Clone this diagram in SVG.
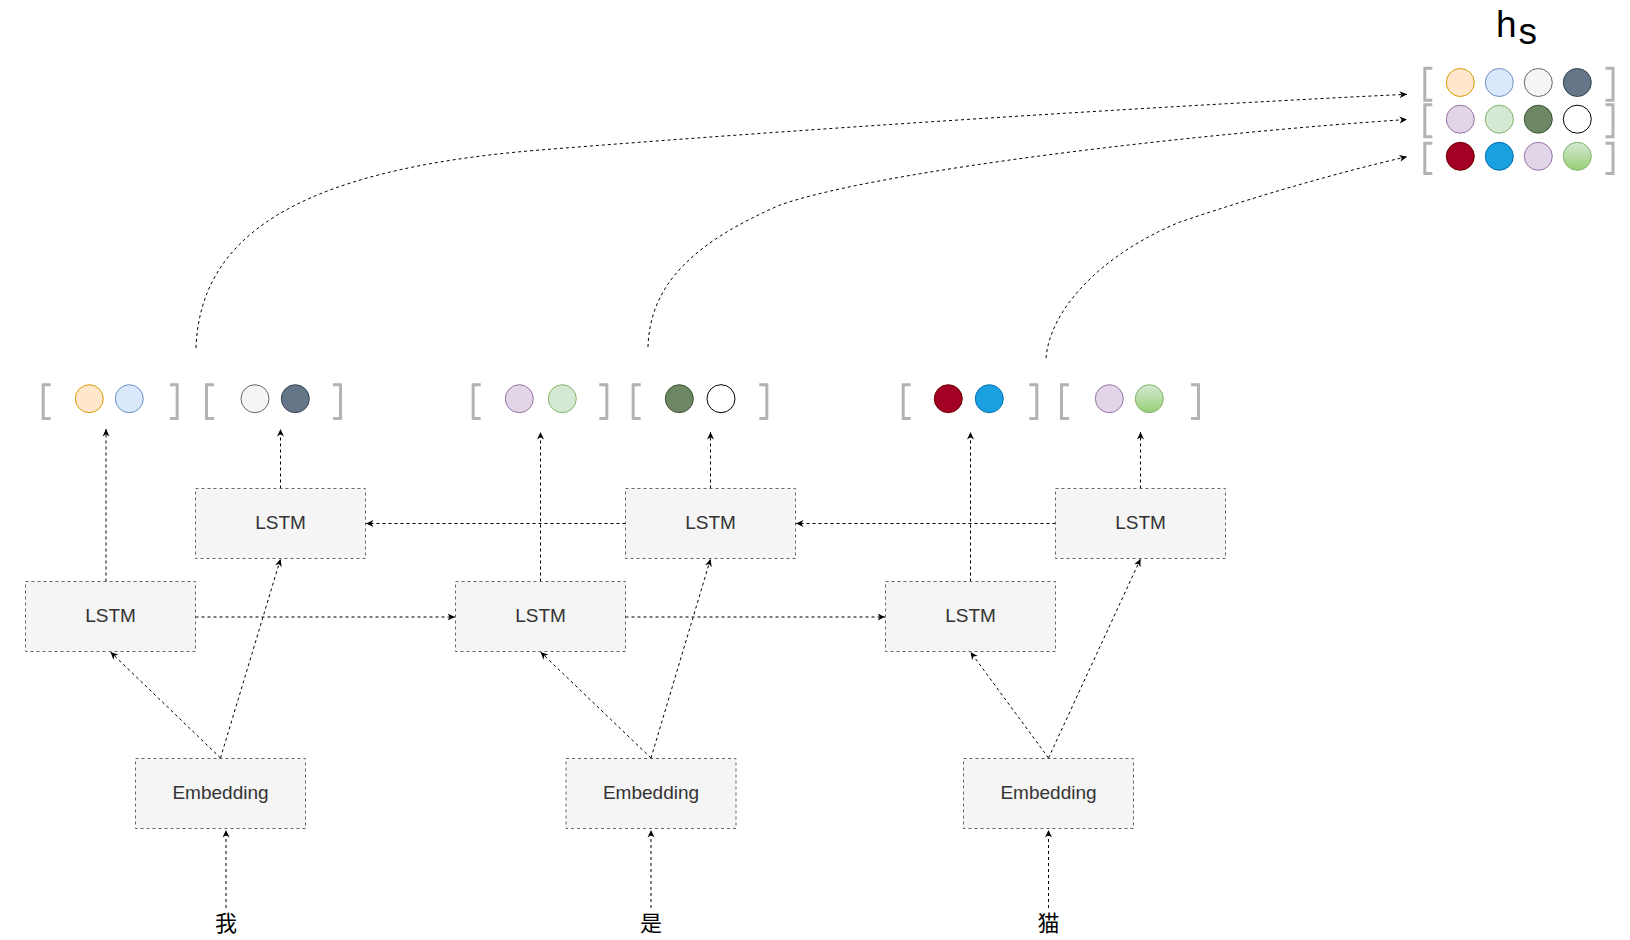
<svg xmlns="http://www.w3.org/2000/svg" width="1630" height="940" viewBox="0 0 1630 940">
<defs>
<style>
.box{fill:#f5f5f5;stroke:#666666;stroke-width:1;stroke-dasharray:3 3}
.lbl{font-family:"Liberation Sans",Arial,sans-serif;font-size:19px;fill:#333333;text-anchor:middle}
.br{fill:none;stroke:#b3b3b3;stroke-width:3}
.conn{fill:none;stroke:#000000;stroke-width:1;stroke-dasharray:3 3;marker-end:url(#arr)}
.zh{font-family:"Noto Sans CJK SC","Noto Sans",sans-serif;font-size:22px;fill:#000000;text-anchor:middle}
.orange{fill:#ffe6cc;stroke:#d79b00}
.blue{fill:#dae8fc;stroke:#6c8ebf}
.gray{fill:#f5f5f5;stroke:#666666}
.slate{fill:#647687;stroke:#314354}
.purple{fill:#e1d5e7;stroke:#9673a6}
.lgreen{fill:#d5e8d4;stroke:#82b366}
.dgreen{fill:#6d8764;stroke:#3a5431}
.white{fill:#ffffff;stroke:#000000}
.red{fill:#a20025;stroke:#6f0000}
.cyan{fill:#1ba1e2;stroke:#006eaf}
.ggrad{fill:url(#gg);stroke:#82b366}
</style>
<linearGradient id="gg" x1="0" y1="0" x2="0" y2="1">
<stop offset="0" stop-color="#d5e8d4"/>
<stop offset="1" stop-color="#97d077"/>
</linearGradient>
<marker id="arr" viewBox="0 0 8 8" markerUnits="userSpaceOnUse" markerWidth="8" markerHeight="8" refX="7.5" refY="4" orient="auto">
<path d="M0,0.5 L7.5,4 L0,7.5 L2.2,4 Z" fill="#000000"/>
</marker>
</defs>
<rect width="1630" height="940" fill="#ffffff"/>

<g id="connectors">
<!-- inputs to embeddings -->
<path class="conn" d="M226,908 V830"/>
<path class="conn" d="M651,908 V830"/>
<path class="conn" d="M1048.5,908 V830"/>
<!-- embedding to LSTMs -->
<path class="conn" d="M220.5,758 L110.5,652"/>
<path class="conn" d="M220.5,758 L280.5,559"/>
<path class="conn" d="M651,758 L540.5,652"/>
<path class="conn" d="M651,758 L710.5,559"/>
<path class="conn" d="M1048.5,758 L970.5,652"/>
<path class="conn" d="M1048.5,758 L1140.5,559"/>
<!-- forward LSTM chain -->
<path class="conn" d="M195.5,617 H455"/>
<path class="conn" d="M625.5,617 H885"/>
<!-- backward LSTM chain -->
<path class="conn" d="M1055.5,523.5 H796"/>
<path class="conn" d="M625.5,523.5 H366"/>
<!-- LSTM outputs -->
<path class="conn" d="M106,581.5 V429"/>
<path class="conn" d="M280.5,488.5 V429"/>
<path class="conn" d="M540.5,581.5 V432"/>
<path class="conn" d="M710.5,488.5 V432"/>
<path class="conn" d="M970.5,581.5 V432"/>
<path class="conn" d="M1140.5,488.5 V432"/>
<!-- curves to hs -->
<path class="conn" d="M196,348 C200,240 290,170 540,150 C840,126 1200,104 1407,94.3"/>
<path class="conn" d="M648,347 C650,280 700,240 780,205 C880,170 1200,133 1407,119.5"/>
<path class="conn" d="M1046,358 C1050,310 1100,255 1180,222 C1260,195 1340,172 1407,156.7"/>
</g>

<g id="emb1"><rect class="box" x="135.5" y="758.5" width="170" height="70"/><text class="lbl" x="220.5" y="798.5">Embedding</text></g>
<g id="emb2"><rect class="box" x="566" y="758.5" width="170" height="70"/><text class="lbl" x="651" y="798.5">Embedding</text></g>
<g id="emb3"><rect class="box" x="963.5" y="758.5" width="170" height="70"/><text class="lbl" x="1048.5" y="798.5">Embedding</text></g>

<g id="lstm_f1"><rect class="box" x="25.5" y="581.5" width="170" height="70"/><text class="lbl" x="110.5" y="622">LSTM</text></g>
<g id="lstm_f2"><rect class="box" x="455.5" y="581.5" width="170" height="70"/><text class="lbl" x="540.5" y="622">LSTM</text></g>
<g id="lstm_f3"><rect class="box" x="885.5" y="581.5" width="170" height="70"/><text class="lbl" x="970.5" y="622">LSTM</text></g>

<g id="lstm_b1"><rect class="box" x="195.5" y="488.5" width="170" height="70"/><text class="lbl" x="280.5" y="529">LSTM</text></g>
<g id="lstm_b2"><rect class="box" x="625.5" y="488.5" width="170" height="70"/><text class="lbl" x="710.5" y="529">LSTM</text></g>
<g id="lstm_b3"><rect class="box" x="1055.5" y="488.5" width="170" height="70"/><text class="lbl" x="1140.5" y="529">LSTM</text></g>

<g id="word1"><text class="zh" x="226" y="931">我</text></g>
<g id="word2"><text class="zh" x="651" y="931">是</text></g>
<g id="word3"><text class="zh" x="1048.5" y="931">猫</text></g>

<g id="out1f">
<path class="br" d="M50.7,384.8 H43.2 V418.5 H50.7"/>
<circle class="orange" cx="89.3" cy="398.7" r="14"/>
<circle class="blue" cx="129.3" cy="398.7" r="14"/>
<path class="br" d="M170,384.8 H177.2 V418.5 H170"/>
</g>
<g id="out1b">
<path class="br" d="M214,384.8 H206.5 V418.5 H214"/>
<circle class="gray" cx="255" cy="398.7" r="14"/>
<circle class="slate" cx="295.3" cy="398.7" r="14"/>
<path class="br" d="M333,384.8 H340.5 V418.5 H333"/>
</g>
<g id="out2f">
<path class="br" d="M480.7,384.8 H473.2 V418.5 H480.7"/>
<circle class="purple" cx="519.3" cy="398.7" r="14"/>
<circle class="lgreen" cx="562.3" cy="398.7" r="14"/>
<path class="br" d="M599.3,384.8 H606.8 V418.5 H599.3"/>
</g>
<g id="out2b">
<path class="br" d="M640.7,384.8 H633.2 V418.5 H640.7"/>
<circle class="dgreen" cx="679.3" cy="398.7" r="14"/>
<circle class="white" cx="721" cy="398.7" r="14"/>
<path class="br" d="M759.3,384.8 H766.8 V418.5 H759.3"/>
</g>
<g id="out3f">
<path class="br" d="M910.7,384.8 H903.2 V418.5 H910.7"/>
<circle class="red" cx="948.3" cy="398.7" r="14"/>
<circle class="cyan" cx="989.3" cy="398.7" r="14"/>
<path class="br" d="M1029.3,384.8 H1036.8 V418.5 H1029.3"/>
</g>
<g id="out3b">
<path class="br" d="M1069,384.8 H1061.5 V418.5 H1069"/>
<circle class="purple" cx="1109.3" cy="398.7" r="14"/>
<circle class="ggrad" cx="1149.3" cy="398.7" r="14"/>
<path class="br" d="M1191,384.8 H1198.5 V418.5 H1191"/>
</g>

<g id="hs">
<text x="1496" y="37" font-family="'Liberation Sans',Arial,sans-serif" font-size="37" fill="#000000">h<tspan dx="2" dy="7">s</tspan></text>
<path class="br" d="M1432.3,68.2 H1424.8 V100.2 H1432.3"/>
<path class="br" d="M1605.5,68.2 H1613 V100.2 H1605.5"/>
<path class="br" d="M1432.3,104.8 H1424.8 V136.8 H1432.3"/>
<path class="br" d="M1605.5,104.8 H1613 V136.8 H1605.5"/>
<path class="br" d="M1432.3,143.2 H1424.8 V173.5 H1432.3"/>
<path class="br" d="M1605.5,143.2 H1613 V173.5 H1605.5"/>
<circle class="orange" cx="1460.3" cy="82.5" r="14"/>
<circle class="blue" cx="1499.3" cy="82.5" r="14"/>
<circle class="gray" cx="1538.3" cy="82.5" r="14"/>
<circle class="slate" cx="1577.3" cy="82.5" r="14"/>
<circle class="purple" cx="1460.3" cy="119.2" r="14"/>
<circle class="lgreen" cx="1499.3" cy="119.2" r="14"/>
<circle class="dgreen" cx="1538.3" cy="119.2" r="14"/>
<circle class="white" cx="1577.3" cy="119.2" r="14"/>
<circle class="red" cx="1460.3" cy="156.3" r="14"/>
<circle class="cyan" cx="1499.3" cy="156.3" r="14"/>
<circle class="purple" cx="1538.3" cy="156.3" r="14"/>
<circle class="ggrad" cx="1577.3" cy="156.3" r="14"/>
</g>
</svg>
